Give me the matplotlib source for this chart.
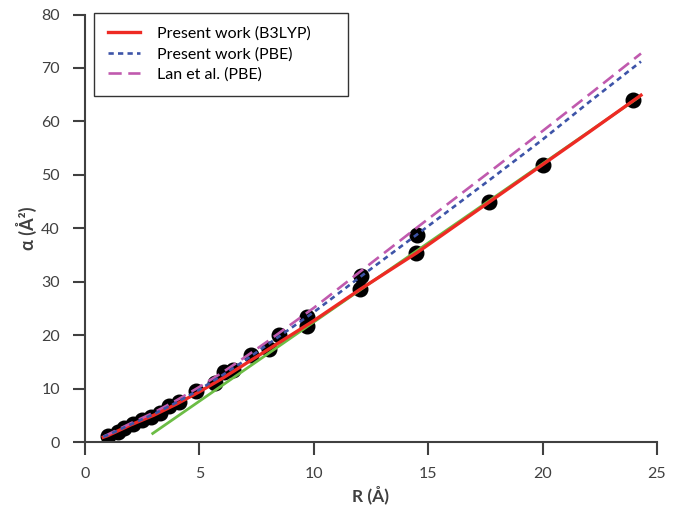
import numpy as np
import matplotlib
matplotlib.use("Agg")
import matplotlib.pyplot as plt

plt.rcParams['font.family'] = ['Lato', 'DejaVu Sans']

# data points (R in Angstrom, alpha in Angstrom^2)
pts_r = [1.02, 1.43, 1.72, 2.08, 2.49, 2.88, 3.28, 3.69, 4.09, 4.87, 5.68, 6.06, 6.47,
         7.26, 8.06, 8.48, 9.69, 9.69, 12.06, 12.02, 14.52, 14.47, 17.67, 20.03, 23.96]
pts_a = [1.2, 1.9, 2.55, 3.36, 4.06, 4.73, 5.48, 6.73, 7.48, 9.48, 11.08, 13.03, 13.46,
         16.2, 17.33, 20.06, 23.4, 21.68, 31.0, 28.6, 38.8, 35.3, 44.9, 51.9, 64.0]

# fitted curves
curve_r = [0.8, 1, 2, 3, 4, 5, 6, 7, 8, 9, 10, 12, 14.5, 17.7, 20, 22, 24.3]
b3lyp = [0.9, 1.2, 3.2, 5.0, 7.1, 9.4, 11.9, 14.6, 17.3, 20.0, 22.7, 28.5, 35.4, 45.0, 51.9, 57.9, 64.9]
pbe = [1.0, 1.3, 3.3, 5.2, 7.4, 9.8, 12.5, 15.3, 18.3, 21.3, 24.3, 30.8, 38.8, 49.1, 56.6, 63.5, 71.2]
lan = [1.0, 1.4, 3.5, 5.5, 7.8, 10.3, 13.0, 15.9, 18.9, 22.0, 25.1, 31.8, 40.1, 50.6, 58.2, 64.9, 72.7]

# linear asymptote
asym_r = [2.96, 24.2]
asym_a = [1.6, 64.5]

grey = '#404040'

fig = plt.figure(figsize=(6.74, 5.11), dpi=100)
ax = fig.add_axes([85/674, 1-442/511, (657-85)/674, (442-14.5)/511])

ax.plot(pts_r, pts_a, 'o', color='black', markersize=10.5, zorder=2)
ax.plot(asym_r, asym_a, '-', color='#6cbd45', lw=2, zorder=3)
ax.plot(curve_r, b3lyp, '-', color='#ee2a24', lw=2.4, zorder=4, label='Present work (B3LYP)')
ax.plot(curve_r, pbe, color='#3d54a8', lw=1.9, dashes=(2, 1.6), zorder=5, label='Present work (PBE)')
ax.plot(curve_r, lan, color='#c05aae', lw=1.9, dashes=(5, 2.5), zorder=4, label='Lan et al. (PBE)')

ax.set_xlim(0, 25)
ax.set_ylim(0, 80)
ax.set_xticks(np.arange(0, 26, 5))
ax.set_yticks(np.arange(0, 81, 10))

for s in ['top', 'right']:
    ax.spines[s].set_visible(False)
for s in ['left', 'bottom']:
    ax.spines[s].set_color(grey)
    ax.spines[s].set_linewidth(1.5)
ax.tick_params(direction='out', length=9, width=1.5, color=grey, labelcolor=grey,
               labelsize=11.5, pad=9)

ax.set_xlabel('R (Å)', fontsize=12.5, fontweight='bold', color=grey, labelpad=3)
ax.set_ylabel('α (Å²)', fontsize=13, fontweight='bold', color=grey, labelpad=3)

leg = ax.legend(loc='upper left', mode='expand',
                bbox_to_anchor=(94/674, 1-102.7/511, (348-94)/674, 90/511),
                bbox_transform=fig.transFigure, borderaxespad=0,
                fontsize=11.5, frameon=True, fancybox=False, handlelength=2.0,
                handletextpad=1.1, borderpad=0.85, labelspacing=0.4)
leg.get_frame().set_edgecolor('black')
leg.get_frame().set_linewidth(1.0)
for t in leg.get_texts():
    t.set_color('black')

fig.savefig('out.png', dpi=100)
